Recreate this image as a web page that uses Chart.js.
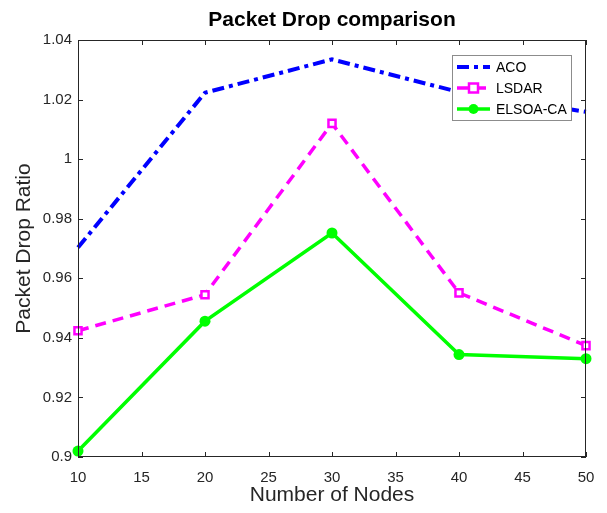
<!DOCTYPE html>
<html>
<head>
<meta charset="utf-8">
<script src="https://cdn.jsdelivr.net/npm/chart.js@4"></script>
<style>
  html, body { margin: 0; padding: 0; background: #fff; }
  #wrap { width: 607px; height: 513px; }
</style>
</head>
<body>
<div id="wrap"><canvas id="chart" width="607" height="513"></canvas></div>
<script>
// values
const nodes = [10, 20, 30, 40, 50];
const aco = [0.9703, 1.0223, 1.0335, 1.0225, 1.0159];
const lsdar = [0.9424, 0.9545, 1.012, 0.9551, 0.9374];
const elsoa = [0.902, 0.9456, 0.9752, 0.9344, 0.933];
const xTicks = [10, 15, 20, 25, 30, 35, 40, 45, 50];
const yTicks = [0.9, 0.92, 0.94, 0.96, 0.98, 1, 1.02, 1.04];
const chartTitle = 'Packet Drop comparison';

const FONT = "'Liberation Sans', Arial, sans-serif";

function pts(vals) {
    return nodes.map((n, i) => ({ x: n, y: vals[i] }));
}

// MATLAB-style box with inward ticks, plus the title centred over the plot
const boxTicks = {
    id: 'boxTicks',
    afterDraw(chart) {
        const { ctx, chartArea: a, scales } = chart;
        ctx.save();
        ctx.strokeStyle = '#262626';
        ctx.lineWidth = 1;
        ctx.strokeRect(a.left + 0.5, a.top + 0.5, a.right - a.left - 1, a.bottom - a.top - 1);
        const len = 5;
        ctx.beginPath();
        xTicks.forEach(v => {
            const x = Math.round(scales.x.getPixelForValue(v)) + 0.5;
            ctx.moveTo(x, a.bottom); ctx.lineTo(x, a.bottom - len);
            ctx.moveTo(x, a.top); ctx.lineTo(x, a.top + len);
        });
        yTicks.forEach(v => {
            const y = Math.round(scales.y.getPixelForValue(v)) + 0.5;
            ctx.moveTo(a.left, y); ctx.lineTo(a.left + len, y);
            ctx.moveTo(a.right, y); ctx.lineTo(a.right - len, y);
        });
        ctx.stroke();

        ctx.fillStyle = '#000';
        ctx.font = 'bold 21px ' + FONT;
        ctx.textAlign = 'center';
        ctx.textBaseline = 'middle';
        ctx.fillText(chartTitle, (a.left + a.right) / 2, 20);
        ctx.restore();
    }
};

// legend box inside the top-right corner
const insideLegend = {
    id: 'insideLegend',
    afterDraw(chart) {
        const { ctx, chartArea: a } = chart;
        const w = 119, h = 65;
        const x0 = a.right - 15 - w, y0 = a.top + 15;
        ctx.save();
        ctx.fillStyle = '#fff';
        ctx.fillRect(x0, y0, w, h);
        ctx.strokeStyle = '#8c8c8c';
        ctx.lineWidth = 1;
        ctx.strokeRect(x0 + 0.5, y0 + 0.5, w, h);
        ctx.font = '14px ' + FONT;
        ctx.textBaseline = 'middle';
        chart.data.datasets.forEach((ds, i) => {
            const y = y0 + 12 + i * 21;
            const lx0 = x0 + 5, lx1 = x0 + 38;
            ctx.strokeStyle = ds.borderColor;
            ctx.lineWidth = ds.borderWidth;
            ctx.setLineDash(ds.borderDash || []);
            ctx.beginPath();
            ctx.moveTo(lx0, y); ctx.lineTo(lx1, y);
            ctx.stroke();
            ctx.setLineDash([]);
            const mx = (lx0 + lx1) / 2;
            if (ds.pointStyle === 'rect') {
                ctx.fillStyle = '#fff';
                ctx.lineWidth = 2.5;
                ctx.fillRect(mx - 4.5, y - 4.5, 9, 9);
                ctx.strokeRect(mx - 4.5, y - 4.5, 9, 9);
            } else if (ds.pointStyle === 'circle') {
                ctx.fillStyle = ds.borderColor;
                ctx.beginPath();
                ctx.arc(mx, y, 5, 0, Math.PI * 2);
                ctx.fill();
            }
            ctx.fillStyle = '#000';
            ctx.fillText(ds.label, lx1 + 6, y + 1);
        });
        ctx.restore();
    }
};

new Chart(document.getElementById('chart').getContext('2d'), {
    type: 'line',
    data: {
        datasets: [
            {
                label: 'ACO',
                data: pts(aco),
                borderColor: '#0000ff',
                borderWidth: 4,
                borderDash: [12, 5, 4, 5],
                pointRadius: 0,
                pointStyle: false
            },
            {
                label: 'LSDAR',
                data: pts(lsdar),
                borderColor: '#ff00ff',
                borderWidth: 3.5,
                borderDash: [11, 7],
                pointStyle: 'rect',
                pointRadius: 5,
                pointBorderWidth: 2.5,
                pointBackgroundColor: '#fff',
                pointBorderColor: '#ff00ff'
            },
            {
                label: 'ELSOA-CA',
                data: pts(elsoa),
                borderColor: '#00ff00',
                borderWidth: 3.5,
                pointStyle: 'circle',
                pointRadius: 5.5,
                pointBorderWidth: 0,
                pointBackgroundColor: '#00ff00'
            }
        ]
    },
    options: {
        responsive: false,
        animation: false,
        clip: false,
        layout: { padding: { left: 0, right: 21, top: 40, bottom: 0 } },
        plugins: {
            legend: { display: false },
            tooltip: { enabled: false },
            title: { display: false }
        },
        scales: {
            x: {
                type: 'linear',
                min: 10,
                max: 50,
                afterBuildTicks: s => { s.ticks = xTicks.map(v => ({ value: v })); },
                afterFit: s => { s.height = 56; },
                grid: { display: false, drawTicks: false },
                border: { display: false },
                ticks: {
                    color: '#262626',
                    font: { family: FONT, size: 15 },
                    padding: 12,
                    maxRotation: 0
                },
                title: {
                    display: true,
                    text: 'Number of Nodes',
                    color: '#262626',
                    font: { family: FONT, size: 21, lineHeight: 1.2 },
                    padding: { top: 0, bottom: 5 }
                }
            },
            y: {
                min: 0.9,
                max: 1.04,
                afterBuildTicks: s => { s.ticks = yTicks.map(v => ({ value: v })); },
                afterFit: s => { s.width = 78; },
                grid: { display: false, drawTicks: false },
                border: { display: false },
                ticks: {
                    color: '#262626',
                    font: { family: FONT, size: 15 },
                    padding: 6,
                    callback: v => String(parseFloat(v.toFixed(2)))
                },
                title: {
                    display: true,
                    text: 'Packet Drop Ratio',
                    color: '#262626',
                    font: { family: FONT, size: 21, lineHeight: 1.2 },
                    padding: { top: 12, bottom: 0 }
                }
            }
        }
    },
    plugins: [boxTicks, insideLegend]
});
</script>
</body>
</html>
